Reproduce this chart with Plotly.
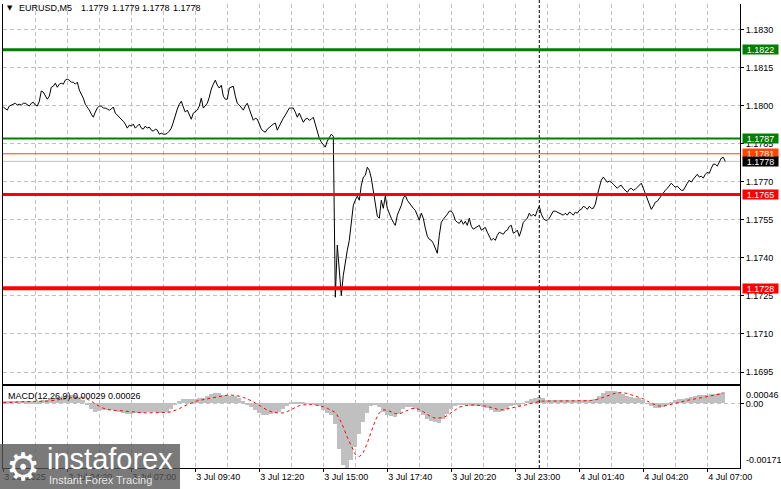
import plotly.graph_objects as go

W, H = 781, 489
FONT = "Liberation Sans, Arial, sans-serif"

# ---------------- data ----------------
bar_index = list(range(362))  # M5 bars, bar 0 = 3 Jul 2025 01:40
close = [
    1.17994, 1.17986, 1.17982, 1.17998, 1.18002, 1.18005, 1.18009, 1.18002, 1.18005, 1.18002,
    1.18009, 1.18009, 1.18002, 1.17998, 1.18009, 1.18013, 1.18002, 1.17998, 1.18017, 1.18057,
    1.18053, 1.18041, 1.18025, 1.18037, 1.18072, 1.18076, 1.18088, 1.18072, 1.18084, 1.18088,
    1.18084, 1.18100, 1.18104, 1.18100, 1.18092, 1.18092, 1.18084, 1.18092, 1.18061, 1.18045,
    1.18029, 1.18005, 1.17994, 1.17982, 1.17966, 1.17954, 1.17974, 1.17990, 1.17998, 1.17998,
    1.17990, 1.17990, 1.17986, 1.17982, 1.17986, 1.17994, 1.17970, 1.17962, 1.17954, 1.17950,
    1.17938, 1.17927, 1.17911, 1.17923, 1.17919, 1.17927, 1.17911, 1.17919, 1.17927, 1.17911,
    1.17907, 1.17919, 1.17911, 1.17915, 1.17903, 1.17899, 1.17907, 1.17903, 1.17887, 1.17891,
    1.17887, 1.17887, 1.17891, 1.17899, 1.17911, 1.17934, 1.17962, 1.17986, 1.18005, 1.18017,
    1.17994, 1.17974, 1.17982, 1.17966, 1.17946, 1.17970, 1.17978, 1.17982, 1.17998, 1.18029,
    1.17990, 1.17998, 1.18009, 1.18033, 1.18065, 1.18084, 1.18100, 1.18080, 1.18069, 1.18080,
    1.18037, 1.18025, 1.18025, 1.18069, 1.18072, 1.18076, 1.18037, 1.18009, 1.18002, 1.17994,
    1.17982, 1.17998, 1.18009, 1.17986, 1.17966, 1.17942, 1.17950, 1.17946, 1.17927, 1.17907,
    1.17899, 1.17895, 1.17907, 1.17915, 1.17919, 1.17927, 1.17931, 1.17903, 1.17919, 1.17938,
    1.17950, 1.17962, 1.17978, 1.17990, 1.17990, 1.17990, 1.17974, 1.17954, 1.17970, 1.17954,
    1.17934, 1.17946, 1.17950, 1.17942, 1.17946, 1.17954, 1.17927, 1.17903, 1.17871, 1.17856,
    1.17844, 1.17836, 1.17860, 1.17875, 1.17887, 1.17879, 1.17245, 1.17450, 1.17351, 1.17252,
    1.17331, 1.17390, 1.17430, 1.17469, 1.17548, 1.17607, 1.17627, 1.17643, 1.17627, 1.17686,
    1.17718, 1.17725, 1.17757, 1.17745, 1.17714, 1.17666, 1.17607, 1.17564, 1.17556, 1.17627,
    1.17595, 1.17643, 1.17595, 1.17572, 1.17556, 1.17540, 1.17528, 1.17568, 1.17587, 1.17607,
    1.17635, 1.17647, 1.17627, 1.17615, 1.17607, 1.17595, 1.17587, 1.17568, 1.17548, 1.17576,
    1.17556, 1.17517, 1.17485, 1.17473, 1.17469, 1.17457, 1.17438, 1.17418, 1.17489, 1.17540,
    1.17552, 1.17560, 1.17572, 1.17584, 1.17584, 1.17572, 1.17548, 1.17540, 1.17536, 1.17548,
    1.17532, 1.17544, 1.17528, 1.17556, 1.17524, 1.17513, 1.17517, 1.17524, 1.17528, 1.17509,
    1.17513, 1.17520, 1.17501, 1.17481, 1.17469, 1.17477, 1.17469, 1.17489, 1.17501, 1.17497,
    1.17493, 1.17505, 1.17509, 1.17524, 1.17528, 1.17497, 1.17501, 1.17509, 1.17485, 1.17509,
    1.17540, 1.17548, 1.17556, 1.17576, 1.17564, 1.17572, 1.17564, 1.17587, 1.17603, 1.17572,
    1.17556, 1.17548, 1.17548, 1.17556, 1.17572, 1.17584, 1.17584, 1.17580, 1.17576, 1.17572,
    1.17568, 1.17576, 1.17568, 1.17580, 1.17576, 1.17568, 1.17580, 1.17576, 1.17587, 1.17591,
    1.17603, 1.17599, 1.17591, 1.17603, 1.17595, 1.17595, 1.17611, 1.17647, 1.17682, 1.17706,
    1.17718, 1.17706, 1.17698, 1.17702, 1.17698, 1.17690, 1.17682, 1.17674, 1.17682, 1.17686,
    1.17674, 1.17666, 1.17658, 1.17670, 1.17674, 1.17666, 1.17670, 1.17678, 1.17686, 1.17694,
    1.17674, 1.17654, 1.17639, 1.17615, 1.17591, 1.17603, 1.17619, 1.17623, 1.17635, 1.17647,
    1.17654, 1.17666, 1.17674, 1.17682, 1.17694, 1.17686, 1.17678, 1.17682, 1.17674, 1.17666,
    1.17666, 1.17682, 1.17694, 1.17706, 1.17698, 1.17710, 1.17722, 1.17729, 1.17718, 1.17722,
    1.17714, 1.17729, 1.17737, 1.17733, 1.17753, 1.17769, 1.17769, 1.17761, 1.17777, 1.17793,
    1.17796, 1.17780,
]

macd_index = list(range(0, 362, 2))
macd_main = [
    0.00005, 0.00005, 0.00006, 0.00007, 0.00006, 0.00006, 0.00005, 0.00005, 0.00004, 0.00005,
    0.00009, 0.00010, 0.00012, 0.00015, 0.00017, 0.00019, 0.00021, 0.00022, 0.00021, 0.00017,
    0.00008, -0.00005, -0.00015, -0.00022, -0.00021, -0.00018, -0.00017, -0.00017, -0.00019, -0.00022,
    -0.00025, -0.00027, -0.00027, -0.00026, -0.00025, -0.00025, -0.00024, -0.00024, -0.00024, -0.00025,
    -0.00025, -0.00022, -0.00016, -0.00005, 0.00006, 0.00012, 0.00012, 0.00011, 0.00012, 0.00014,
    0.00015, 0.00019, 0.00024, 0.00028, 0.00027, 0.00023, 0.00021, 0.00020, 0.00019, 0.00013,
    0.00006, -0.00002, -0.00010, -0.00018, -0.00025, -0.00030, -0.00031, -0.00029, -0.00026, -0.00024,
    -0.00016, -0.00007, 0.00002, 0.00004, 0.00003, 0.00002, 0.00001, 0.00001, -0.00002, -0.00008,
    -0.00017, -0.00026, -0.00030, -0.00055, -0.00120, -0.00163, -0.00171, -0.00150, -0.00115, -0.00080,
    -0.00050, -0.00025, -0.00008, -0.00003, -0.00010, -0.00022, -0.00030, -0.00033, -0.00035, -0.00027,
    -0.00015, -0.00010, -0.00010, -0.00014, -0.00022, -0.00030, -0.00040, -0.00046, -0.00050, -0.00051,
    -0.00042, -0.00028, -0.00015, -0.00008, -0.00004, -0.00005, -0.00004, -0.00006, -0.00008, -0.00008,
    -0.00009, -0.00012, -0.00018, -0.00022, -0.00022, -0.00019, -0.00014, -0.00008, -0.00005, -0.00006,
    0.00000, 0.00007, 0.00012, 0.00015, 0.00017, 0.00014, 0.00010, 0.00009, 0.00009, 0.00008,
    0.00008, 0.00008, 0.00008, 0.00008, 0.00008, 0.00009, 0.00010, 0.00010, 0.00012, 0.00020,
    0.00028, 0.00032, 0.00034, 0.00033, 0.00030, 0.00025, 0.00020, 0.00016, 0.00014, 0.00013,
    0.00009, 0.00001, -0.00008, -0.00012, -0.00012, -0.00010, -0.00004, 0.00004, 0.00010, 0.00012,
    0.00012, 0.00014, 0.00017, 0.00019, 0.00021, 0.00021, 0.00023, 0.00024, 0.00026, 0.00027,
    0.00029,
]
macd_signal = [
    0.00002, 0.00002, 0.00003, 0.00003, 0.00004, 0.00004, 0.00005, 0.00005, 0.00005, 0.00005,
    0.00006, 0.00006, 0.00007, 0.00008, 0.00009, 0.00011, 0.00013, 0.00015, 0.00017, 0.00017,
    0.00016, 0.00012, 0.00006, -0.00002, -0.00008, -0.00013, -0.00016, -0.00018, -0.00019, -0.00019,
    -0.00020, -0.00022, -0.00023, -0.00024, -0.00025, -0.00025, -0.00025, -0.00025, -0.00025, -0.00024,
    -0.00024, -0.00024, -0.00022, -0.00019, -0.00014, -0.00008, -0.00003, 0.00002, 0.00005, 0.00008,
    0.00010, 0.00012, 0.00014, 0.00017, 0.00019, 0.00021, 0.00022, 0.00022, 0.00021, 0.00019,
    0.00016, 0.00012, 0.00007, 0.00001, -0.00006, -0.00012, -0.00018, -0.00022, -0.00025, -0.00026,
    -0.00025, -0.00022, -0.00016, -0.00010, -0.00006, -0.00004, -0.00003, -0.00003, -0.00004, -0.00006,
    -0.00009, -0.00013, -0.00018, -0.00024, -0.00040, -0.00062, -0.00090, -0.00115, -0.00135, -0.00141,
    -0.00130, -0.00105, -0.00075, -0.00045, -0.00025, -0.00017, -0.00018, -0.00022, -0.00027, -0.00028,
    -0.00024, -0.00018, -0.00014, -0.00013, -0.00016, -0.00022, -0.00030, -0.00036, -0.00039, -0.00039,
    -0.00038, -0.00032, -0.00024, -0.00016, -0.00010, -0.00007, -0.00005, -0.00004, -0.00004, -0.00005,
    -0.00006, -0.00008, -0.00011, -0.00015, -0.00017, -0.00017, -0.00015, -0.00013, -0.00011, -0.00008,
    -0.00005, -0.00003, 0.00000, 0.00003, 0.00005, 0.00006, 0.00006, 0.00006, 0.00006, 0.00006,
    0.00006, 0.00006, 0.00006, 0.00007, 0.00007, 0.00007, 0.00007, 0.00008, 0.00009, 0.00012,
    0.00016, 0.00020, 0.00024, 0.00027, 0.00028, 0.00028, 0.00026, 0.00023, 0.00020, 0.00017,
    0.00012, 0.00006, 0.00000, -0.00004, -0.00007, -0.00007, -0.00005, -0.00002, 0.00001, 0.00004,
    0.00006, 0.00008, 0.00010, 0.00012, 0.00014, 0.00016, 0.00018, 0.00020, 0.00022, 0.00024,
    0.00026,
]

price_ticks = [1.1695, 1.1710, 1.1725, 1.1740, 1.1755, 1.1770, 1.1785, 1.1800, 1.1815, 1.1830]
price_tick_labels = ["1.1695", "1.1710", "1.1725", "1.1740", "1.1755", "1.1770",
                     "1.1785", "1.1800", "1.1815", "1.1830"]
time_tick_index = [0, 32, 64, 96, 128, 160, 192, 224, 256, 288, 320, 352]
time_tick_labels = ["3 Jul 2025", "3 Jul 04:20", "3 Jul 07:00", "3 Jul 09:40", "3 Jul 12:20",
                    "3 Jul 15:00", "3 Jul 17:40", "3 Jul 20:20", "3 Jul 23:00", "4 Jul 01:40",
                    "4 Jul 04:20", "4 Jul 07:00"]
grid_minor_index = [16, 48, 80, 112, 144, 176, 208, 240, 272, 304, 336]
day_separator_index = 268

level_prices = [1.1822, 1.1787, 1.1781, 1.1778, 1.1765, 1.1728]
level_labels = ["1.1822", "1.1787", "1.1781", "1.1778", "1.1765", "1.1728"]

macd_title = "MACD(12,26,9) 0.00029 0.00026"
macd_max_label, macd_min_label = "0.00046", "-0.00171"
macd_max, macd_min = 0.00046, -0.00171
symbol_title = "EURUSD,M5"
ohlc_labels = ["1.1779", "1.1779", "1.1778", "1.1778"]

# ---------------- styles ----------------
level_style = {
    "1.1822": ("#008000", 3, "#008000"),
    "1.1787": ("#008000", 2, "#008000"),
    "1.1781": ("#FF4500", 1, "#FF4500"),
    "1.1778": ("#C0C0C0", 1, "#000000"),
    "1.1765": ("#FF0000", 3, "#FF0000"),
    "1.1728": ("#FF0000", 4, "#FF0000"),
}
GRID = "#C0C0C0"
GDASH = "4px,3px"

def px_x(p):
    return p / W

def px_y(p):
    return 1 - p / H

fig = go.Figure()

fig.add_trace(go.Bar(x=macd_index, y=macd_main, width=2, marker_color="#C0C0C0",
                     marker_line_width=0, xaxis="x2", yaxis="y2", hoverinfo="skip"))
fig.add_trace(go.Scatter(x=macd_index, y=macd_signal, mode="lines",
                         line=dict(color="#FF0000", width=1, dash="3px,3px"),
                         xaxis="x2", yaxis="y2", hoverinfo="skip"))
fig.add_trace(go.Scatter(x=bar_index, y=close, mode="lines",
                         line=dict(color="#000000", width=1), xaxis="x", yaxis="y",
                         hoverinfo="skip"))

xrange = [-0.15, 368.35]
xdom = [px_x(3), px_x(740)]
tickfont = dict(family=FONT, size=9, color="#000000")

common_x = dict(domain=xdom, range=xrange, showgrid=True, gridcolor=GRID, griddash=GDASH,
                gridwidth=1, zeroline=False, showline=True, linecolor="#000000", linewidth=1,
                tickmode="array", tickvals=time_tick_index, automargin=False,
                minor=dict(tickmode="array", tickvals=grid_minor_index, showgrid=True,
                           gridcolor=GRID, griddash=GDASH, gridwidth=1, ticks=""))

fig.update_layout(
    width=W, height=H, margin=dict(l=0, r=0, t=0, b=0, pad=0, autoexpand=False),
    paper_bgcolor="#FFFFFF", plot_bgcolor="#FFFFFF", showlegend=False,
    hovermode=False, bargap=0,
    xaxis=dict(**common_x, anchor="y", showticklabels=False, ticks=""),
    yaxis=dict(domain=[px_y(384), px_y(4)], range=[1.16903, 1.18400], side="right",
               anchor="x", tickmode="array", tickvals=price_ticks, ticktext=price_tick_labels,
               showgrid=True, gridcolor=GRID, griddash=GDASH, zeroline=False, automargin=False,
               showline=True, mirror=True, linecolor="#000000", linewidth=1,
               ticks="outside", ticklen=3, tickcolor="#000000", tickfont=tickfont),
    xaxis2=dict(**common_x, anchor="y2", mirror=True, ticktext=time_tick_labels,
                ticks="outside", ticklen=3, tickcolor="#000000", tickfont=tickfont,
                ticklabelposition="outside right"),
    yaxis2=dict(domain=[px_y(468), px_y(386)], range=[macd_min, macd_max], side="right",
                anchor="x2", tickmode="array", tickvals=[0], ticktext=["0.00"],
                showgrid=True, gridcolor=GRID, griddash=GDASH, zeroline=False, automargin=False,
                showline=True, mirror=True, linecolor="#000000", linewidth=1,
                ticks="outside", ticklen=3, tickcolor="#000000", tickfont=tickfont),
)

shapes = []
annotations = []

# day separator
shapes.append(dict(type="line", xref="x", yref="paper", x0=day_separator_index,
                   x1=day_separator_index, y0=px_y(468), y1=1,
                   line=dict(color="#000000", width=1, dash="3px,2px"), layer="above"))

for price, lab in zip(level_prices, level_labels):
    col, wid, bg = level_style[lab]
    shapes.append(dict(type="line", xref="x domain", yref="y", x0=0, x1=1, y0=price, y1=price,
                       line=dict(color=col, width=wid), layer="above" if lab != "1.1778" else "below"))
    annotations.append(dict(xref="paper", yref="y", x=px_x(742), y=price, xanchor="left",
                            yanchor="middle", text=lab, showarrow=False, bgcolor=bg,
                            font=dict(family=FONT, size=9, color="#FFFFFF"),
                            width=35, height=9, borderpad=0, align="center"))

# MACD scale labels
annotations.append(dict(xref="paper", yref="y2", x=px_x(744), y=macd_max, xanchor="left",
                        yanchor="top", yshift=-2, text=macd_max_label, showarrow=False,
                        font=tickfont))
annotations.append(dict(xref="paper", yref="y2", x=px_x(744), y=macd_min, xanchor="left",
                        yanchor="bottom", yshift=1, text=macd_min_label, showarrow=False,
                        font=tickfont))

# titles
annotations.append(dict(xref="paper", yref="paper", x=px_x(5), y=px_y(8), xanchor="left",
                        yanchor="middle", text="\u25bc", showarrow=False,
                        font=dict(family="DejaVu Sans", size=7, color="#000000")))
annotations.append(dict(xref="paper", yref="paper", x=px_x(17), y=px_y(8), xanchor="left",
                        yanchor="middle", text=symbol_title, showarrow=False, font=tickfont))
for k, lab in enumerate(ohlc_labels):
    annotations.append(dict(xref="paper", yref="paper", x=px_x(79 + 30.5 * k), y=px_y(8),
                            xanchor="left", yanchor="middle", text=lab, showarrow=False,
                            font=tickfont))
annotations.append(dict(xref="paper", yref="paper", x=px_x(6), y=px_y(395.5), xanchor="left",
                        yanchor="middle", text=macd_title, showarrow=False, font=tickfont))

# watermark
shapes.append(dict(type="rect", xref="paper", yref="paper", x0=0, x1=px_x(180), y0=0,
                   y1=px_y(444), fillcolor="rgba(85,85,85,0.78)", line=dict(width=0),
                   layer="above"))
annotations.append(dict(xref="paper", yref="paper", x=px_x(4), y=px_y(467), xanchor="left",
                        yanchor="middle", text="\u2699", showarrow=False,
                        font=dict(family="DejaVu Sans", size=38, color="#FFFFFF")))
annotations.append(dict(xref="paper", yref="paper", x=px_x(45), y=px_y(459), xanchor="left",
                        yanchor="middle", text="instaforex", showarrow=False,
                        font=dict(family="Liberation Sans", size=29, color="#FFFFFF")))
annotations.append(dict(xref="paper", yref="paper", x=px_x(47), y=px_y(480), xanchor="left",
                        yanchor="middle", text="Instant Forex Tracing", showarrow=False,
                        font=dict(family="Liberation Sans", size=11, color="rgba(255,255,255,0.85)")))

fig.update_layout(shapes=shapes, annotations=annotations)
fig.write_html("out.html", config={"displayModeBar": False},
               post_script="document.body.style.margin='0px';document.body.style.overflow='hidden';")
